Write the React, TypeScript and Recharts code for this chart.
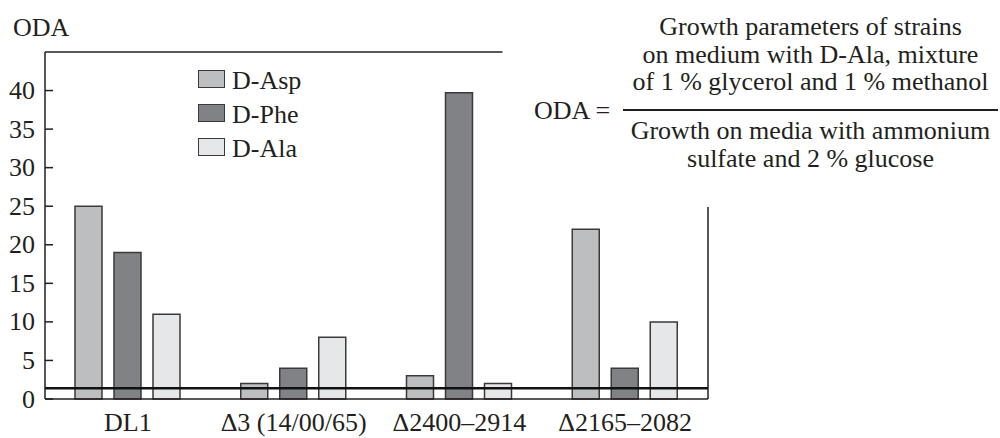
import { BarChart, Bar, XAxis, YAxis, ReferenceLine, Legend } from 'recharts';

const strains = ['DL1', 'Δ3 (14/00/65)', 'Δ2400–2914', 'Δ2165–2082'];
const dAsp = [25, 2, 3, 22];
const dPhe = [19, 4, 39.7, 4];
const dAla = [11, 8, 2, 10];
const yTicks = [0, 5, 10, 15, 20, 25, 30, 35, 40];
const threshold = 1.4;

const series = [
  { key: 'asp', name: 'D-Asp', color: '#bdbec0' },
  { key: 'phe', name: 'D-Phe', color: '#808285' },
  { key: 'ala', name: 'D-Ala', color: '#e6e7e8' },
];

const data = strains.map((s, i) => ({ strain: s, asp: dAsp[i], phe: dPhe[i], ala: dAla[i] }));

const FONT = 'Liberation Serif, Tinos, DejaVu Serif, serif';
const INK = '#231f20';
const FS = 26;

const YTick = ({ x, y, payload }: any) => (
  <g>
    <line x1={x + 10} x2={x + 18} y1={y} y2={y} stroke={INK} strokeWidth={1.5} />
    <text x={x} y={y} textAnchor="end" dominantBaseline="central" fontSize={FS} fill={INK} fontFamily={FONT}>
      {payload.value}
    </text>
  </g>
);

const LegendBox = () => (
  <div style={{ fontFamily: FONT, fontSize: FS, color: INK }}>
    {series.map((s) => (
      <div key={s.key} style={{ display: 'flex', alignItems: 'flex-end', height: 34 }}>
        <span
          style={{
            display: 'inline-block',
            width: 25,
            height: 16,
            background: s.color,
            border: '1.5px solid #3a3a3a',
            marginRight: 7,
            marginBottom: 8,
          }}
        />
        <span style={{ lineHeight: '27px', marginBottom: 2 }}>{s.name}</span>
      </div>
    ))}
  </div>
);

const textStyle = {
  position: 'absolute' as const,
  fontFamily: FONT,
  fontSize: 26,
  lineHeight: '27.5px',
  color: INK,
  whiteSpace: 'nowrap' as const,
};

export default function App() {
  return (
    <div style={{ position: 'relative', width: 1000, height: 438, background: '#fff', fontFamily: FONT }}>
      <style>{`body{margin:0}`}</style>
      <div style={{ ...textStyle, left: 13, top: 14 }}>ODA</div>
      <div style={{ ...textStyle, left: 534, top: 97 }}>ODA =</div>
      <div style={{ ...textStyle, left: 623, width: 375, top: 13, textAlign: 'center' }}>
        Growth parameters of strains
        <br />
        on medium with D-Ala, mixture
        <br />
        of 1 % glycerol and 1 % methanol
      </div>
      <div style={{ position: 'absolute', left: 623, width: 375, top: 109, height: 0, borderTop: `2.5px solid ${INK}` }} />
      <div style={{ ...textStyle, left: 623, width: 375, top: 117, textAlign: 'center' }}>
        Growth on media with ammonium
        <br />
        sulfate and 2 % glucose
      </div>
      <BarChart
        width={1000}
        height={438}
        data={data}
        margin={{ top: 52, right: 292, bottom: 9, left: 0 }}
        barSize={27}
        barGap={12}
        style={{ position: 'absolute', left: 0, top: 0 }}
      >
        <XAxis
          dataKey="strain"
          height={30}
          tickSize={0}
          tickMargin={14}
          axisLine={{ stroke: INK, strokeWidth: 1.5 }}
          tick={{ fontSize: FS, fill: INK, fontFamily: FONT }}
          interval={0}
        />
        <XAxis xAxisId="frame" type="number" domain={[0, 3]} allowDataOverflow hide />
        <YAxis
          width={45}
          domain={[0, 45]}
          ticks={yTicks}
          tickSize={0}
          tickMargin={10}
          axisLine={{ stroke: INK, strokeWidth: 1.5 }}
          tick={<YTick />}
          interval={0}
        />
        <Legend
          layout="vertical"
          align="center"
          verticalAlign="middle"
          content={<LegendBox />}
          wrapperStyle={{ left: 198, top: 62, width: 'auto' }}
        />
        {series.map((s) => (
          <Bar
            key={s.key}
            dataKey={s.key}
            name={s.name}
            fill={s.color}
            stroke="#3a3a3a"
            strokeWidth={1.5}
            isAnimationActive={false}
          />
        ))}
        <ReferenceLine
          xAxisId="frame"
          segment={[{ x: 0, y: 45 }, { x: 2.07, y: 45 }]}
          stroke={INK}
          strokeWidth={1.5}
          ifOverflow="visible"
        />
        <ReferenceLine
          xAxisId="frame"
          segment={[{ x: 3, y: 0 }, { x: 3, y: 24.9 }]}
          stroke={INK}
          strokeWidth={1.5}
          ifOverflow="visible"
        />
        <ReferenceLine y={threshold} stroke="#111" strokeWidth={2.5} />
      </BarChart>
    </div>
  );
}
